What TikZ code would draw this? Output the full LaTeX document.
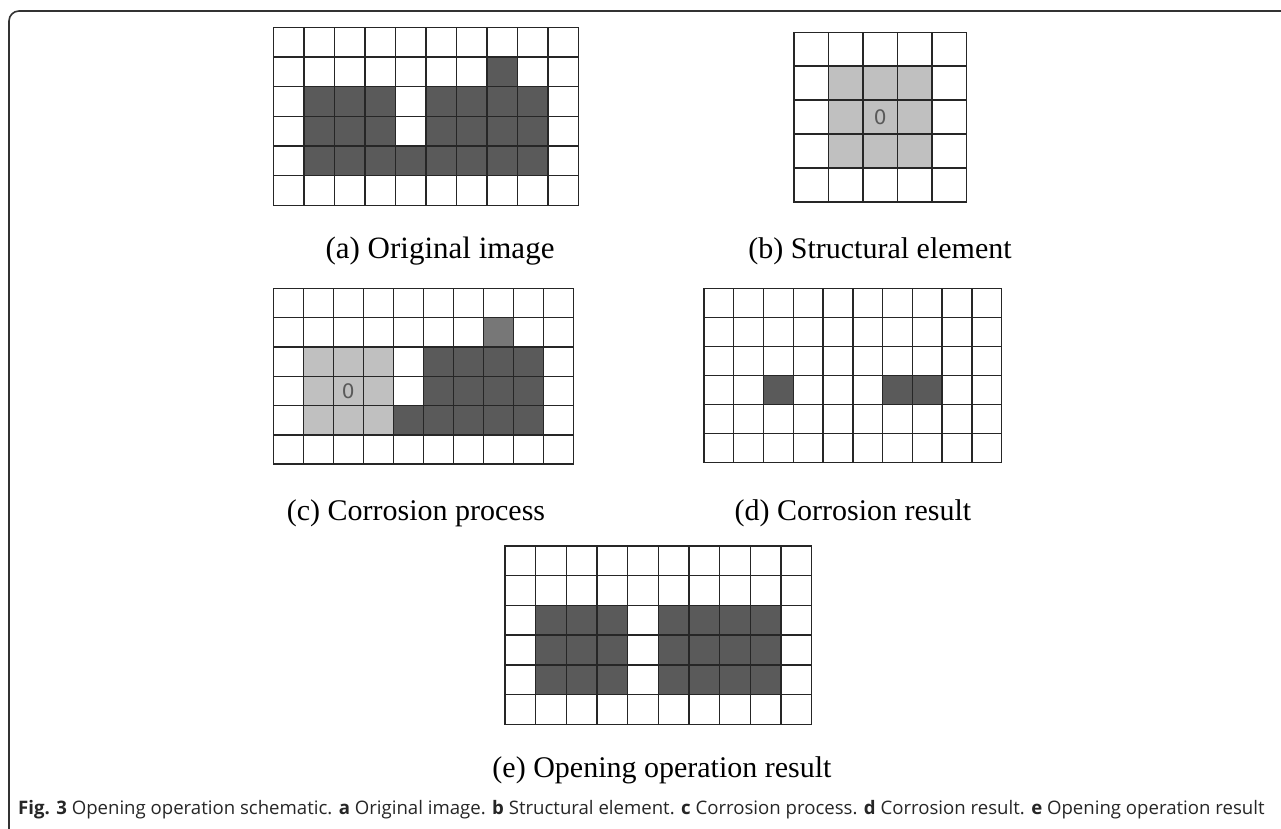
\documentclass[tikz,border=0pt]{standalone}
\usepackage{fontspec}
\setmainfont{Liberation Serif}
\newfontfamily\capfont{Open Sans}
\newfontfamily\zerofont{DejaVu Sans}
\definecolor{dk}{HTML}{5A5A5A}
\definecolor{lt}{HTML}{C0C0C0}
\definecolor{md}{HTML}{777777}
\definecolor{ln}{HTML}{262626}
\definecolor{frame}{HTML}{333333}
\newcommand\gridlines[2]{%
  \foreach \i in {0,...,#1} \draw[gl] (\i,0) -- (\i,#2);
  \foreach \j in {0,...,#2} \draw[gl] (0,\j) -- (#1,\j);
}
\begin{document}
\begin{tikzpicture}[x=1pt,y=-1pt,
  gl/.style={draw=ln, line width=1.4pt, line cap=rect},
  darkcell/.style={fill=dk},
  lightcell/.style={fill=lt},
  midcell/.style={fill=md},
  lbl/.style={font=\fontsize{30}{30}\selectfont, anchor=base, text=black, inner sep=0pt},
  zero/.style={font=\zerofont\fontsize{20}{20}\selectfont, text=black!65, inner sep=0pt},
  caption/.style={font=\capfont\fontsize{18.6}{18.6}\selectfont, anchor=base west, inner sep=0pt, text=black!85}]
\useasboundingbox (0,0) rectangle (1281,829);
\fill[white] (0,0) rectangle (1281,829);
% frame
\draw[frame, line width=1.6pt, rounded corners=10pt] (9,829) -- (9,11) -- (1281,11);

% (a) original image
\begin{scope}[shift={(273.3,27.3)}, x=30.5pt, y=-29.7pt]
  \fill[darkcell] (7,1) rectangle ++(1,1);
  \foreach \c in {1,2,3,5,6,7,8} \fill[darkcell] (\c,2) rectangle ++(1,2);
  \fill[darkcell] (1,4) rectangle ++(8,1);
  \gridlines{10}{6}
\end{scope}
\node[lbl, font=\fontsize{31}{31}\selectfont] (la) at (440,258) {(a) Original image};

% (b) structural element
\begin{scope}[shift={(794,32.3)}, x=34.5pt, y=-33.9pt]
  \fill[lightcell] (1,1) rectangle (4,4);
  \gridlines{5}{5}
  \node[zero] (zb) at (2.5,2.5) {0};
\end{scope}
\node[lbl] (lb) at (880,258) {(b) Structural element};

% (c) corrosion process
\begin{scope}[shift={(273.3,288.3)}, x=30pt, y=-29.3pt]
  \fill[lightcell] (1,2) rectangle (4,5);
  \fill[midcell] (7,1) rectangle ++(1,1);
  \fill[darkcell] (5,2) rectangle (9,5);
  \fill[darkcell] (4,4) rectangle (5,5);
  \gridlines{10}{6}
  \node[zero] (zc) at (2.5,3.5) {0};
\end{scope}
\node[lbl] (lc) at (416,520) {(c) Corrosion process};

% (d) corrosion result
\begin{scope}[shift={(704,288.3)}, x=29.77pt, y=-29.07pt]
  \fill[darkcell] (2,3) rectangle ++(1,1);
  \fill[darkcell] (6,3) rectangle ++(2,1);
  \gridlines{10}{6}
\end{scope}
\node[lbl] (ld) at (853,520) {(d) Corrosion result};

% (e) opening operation result
\begin{scope}[shift={(505,546)}, x=30.67pt, y=-29.7pt]
  \fill[darkcell] (1,2) rectangle (4,5);
  \fill[darkcell] (5,2) rectangle (9,5);
  \gridlines{10}{6}
\end{scope}
\node[lbl] (le) at (662,777) {(e) Opening operation result};

% caption
\node[caption] (cap) at (18,814) {\textbf{Fig. 3} Opening operation schematic. \textbf{a} Original image. \textbf{b} Structural element. \textbf{c} Corrosion process. \textbf{d} Corrosion result. \textbf{e} Opening operation result};
\end{tikzpicture}
\end{document}
